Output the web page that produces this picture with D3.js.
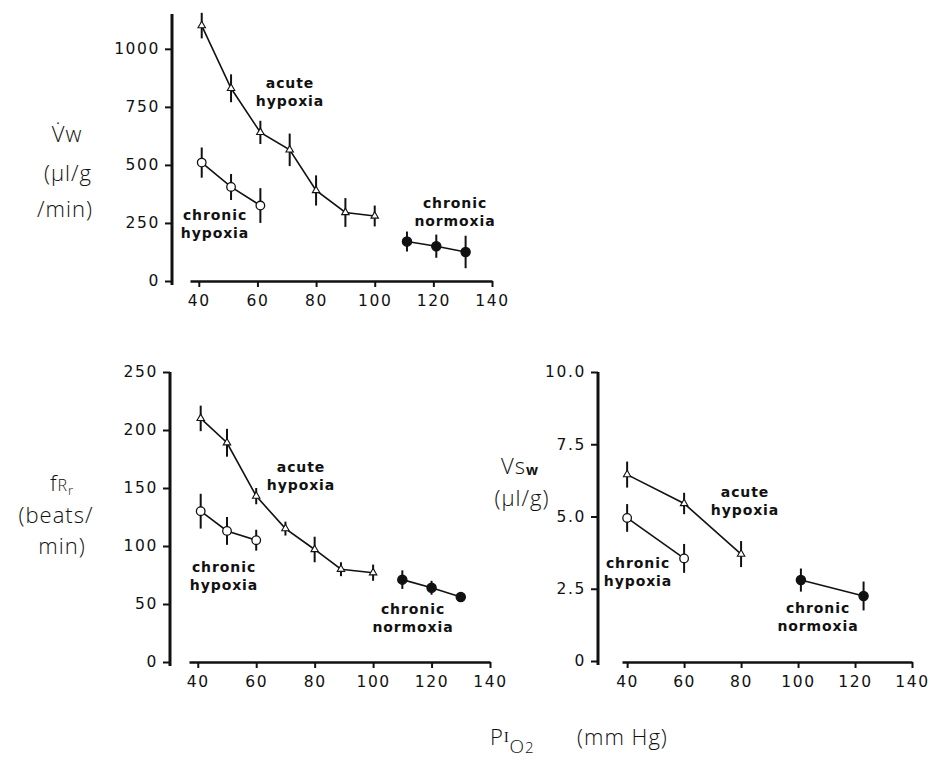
<!DOCTYPE html>
<html>
<head>
<meta charset="utf-8">
<script src="https://cdn.jsdelivr.net/npm/d3@7"></script>
<style>
  body { margin: 0; background: #fff; }
  svg { display: block; }
  .axis .tick text { font-family: "DejaVu Sans", sans-serif; font-size: 15.5px; letter-spacing: 1.6px; fill: #111; }
  .axis .tick line { stroke: #111; stroke-width: 2; }
  .axis path.domain { stroke: #111; }
  .note { font-family: "DejaVu Sans", sans-serif; font-weight: bold; font-size: 14px; letter-spacing: 0.9px; fill: #111; }
  .title { font-family: "Open Sans", "DejaVu Sans", sans-serif; font-weight: 300; font-size: 22px; letter-spacing: 1px; fill: #111; }
</style>
</head>
<body>
<svg width="930" height="765"></svg>
<script>
const xTicks = [40, 60, 80, 100, 120, 140];

// Vw (top panel)
const vwTicks = [0, 250, 500, 750, 1000];
const vwAcuteX = [41, 51, 61, 71, 80, 90, 100];
const vwAcuteY = [1100, 830, 640, 565, 390, 295, 280];
const vwAcuteErr = [55, 60, 50, 70, 65, 62, 45];
const vwChrHypX = [41, 51, 61];
const vwChrHypY = [510, 405, 325];
const vwChrHypErr = [65, 56, 75];
const vwNormX = [111, 121, 131];
const vwNormY = [170, 150, 125];
const vwNormErr = [43, 50, 70];

// fRr (bottom left)
const frTicks = [0, 50, 100, 150, 200, 250];
const frAcuteX = [41, 50, 60, 70, 80, 89, 100];
const frAcuteY = [210, 189, 143, 115, 97, 80, 77];
const frAcuteErr = [11, 12, 7, 6, 11, 6, 7];
const frChrHypX = [41, 50, 60];
const frChrHypY = [130, 113, 105];
const frChrHypErr = [15, 12, 9];
const frNormX = [110, 120, 130];
const frNormY = [71, 64, 56];
const frNormErr = [8, 6, 3];

// Vsw (bottom right)
const vsTicks = [0, 2.5, 5.0, 7.5, 10.0];
const vsAcuteX = [40, 60, 80];
const vsAcuteY = [6.45, 5.45, 3.7];
const vsAcuteErr = [0.45, 0.37, 0.45];
const vsChrHypX = [40, 60];
const vsChrHypY = [4.95, 3.55];
const vsChrHypErr = [0.48, 0.5];
const vsNormX = [101, 123];
const vsNormY = [2.8, 2.25];
const vsNormErr = [0.4, 0.5];

const zip = (xs, ys, es) => xs.map((x, i) => ({ x: x, y: ys[i], e: es[i] }));

const panels = [
  {
    xDomain: [37, 140], xRange: [190, 492],
    yDomain: [0, 1150], yRange: [281, 14],
    axisX: 172, axisY: 281, yTicks: vwTicks, fmt: d3.format("d"),
    series: [
      { pts: zip(vwAcuteX, vwAcuteY, vwAcuteErr), mark: "tri" },
      { pts: zip(vwChrHypX, vwChrHypY, vwChrHypErr), mark: "open" },
      { pts: zip(vwNormX, vwNormY, vwNormErr), mark: "fill" }
    ],
    notes: [
      { x: 290, y: 88, lines: ["acute", "hypoxia"] },
      { x: 215, y: 220, lines: ["chronic", "hypoxia"] },
      { x: 455, y: 208, lines: ["chronic", "normoxia"] }
    ]
  },
  {
    xDomain: [37, 140], xRange: [189, 490],
    yDomain: [0, 250], yRange: [662, 372],
    axisX: 170, axisY: 662, yTicks: frTicks, fmt: d3.format("d"),
    series: [
      { pts: zip(frAcuteX, frAcuteY, frAcuteErr), mark: "tri" },
      { pts: zip(frChrHypX, frChrHypY, frChrHypErr), mark: "open" },
      { pts: zip(frNormX, frNormY, frNormErr), mark: "fill" }
    ],
    notes: [
      { x: 301, y: 472, lines: ["acute", "hypoxia"] },
      { x: 224, y: 572, lines: ["chronic", "hypoxia"] },
      { x: 413, y: 614, lines: ["chronic", "normoxia"] }
    ]
  },
  {
    xDomain: [38.2, 140], xRange: [622, 912],
    yDomain: [0, 10], yRange: [661, 372],
    axisX: 598, axisY: 662, yTicks: vsTicks,
    fmt: d => d === 0 ? "0" : d3.format(".1f")(d),
    series: [
      { pts: zip(vsAcuteX, vsAcuteY, vsAcuteErr), mark: "tri" },
      { pts: zip(vsChrHypX, vsChrHypY, vsChrHypErr), mark: "open" },
      { pts: zip(vsNormX, vsNormY, vsNormErr), mark: "fill" }
    ],
    notes: [
      { x: 745, y: 497, lines: ["acute", "hypoxia"] },
      { x: 638, y: 568, lines: ["chronic", "hypoxia"] },
      { x: 818, y: 613, lines: ["chronic", "normoxia"] }
    ]
  }
];

const svg = d3.select("svg");

panels.forEach(p => {
  const x = d3.scaleLinear().domain(p.xDomain).range(p.xRange);
  const y = d3.scaleLinear().domain(p.yDomain).range(p.yRange);
  const g = svg.append("g");

  // y axis (line runs a little past the zero tick)
  const ya = g.append("g")
    .attr("class", "axis")
    .attr("transform", `translate(${p.axisX},0)`)
    .call(d3.axisLeft(y).tickValues(p.yTicks).tickFormat(p.fmt)
      .tickSize(7).tickSizeOuter(0).tickPadding(5));
  ya.select("path.domain")
    .attr("d", `M0,${p.yRange[0] + 4}V${p.yRange[1]}`)
    .attr("stroke-width", 3);

  // x axis, detached from the y axis
  const xa = g.append("g")
    .attr("class", "axis")
    .attr("transform", `translate(0,${p.axisY})`)
    .call(d3.axisBottom(x).tickValues(xTicks)
      .tickSize(6).tickSizeOuter(0).tickPadding(8));
  xa.select("path.domain").attr("stroke-width", 2.5);

  const line = d3.line().x(d => x(d.x)).y(d => y(d.y));

  p.series.forEach(s => {
    g.append("path")
      .datum(s.pts)
      .attr("d", line)
      .attr("fill", "none")
      .attr("stroke", "#111")
      .attr("stroke-width", 1.6);

    g.selectAll(null)
      .data(s.pts)
      .enter().append("line")
      .attr("x1", d => x(d.x))
      .attr("x2", d => x(d.x))
      .attr("y1", d => y(d.y - d.e))
      .attr("y2", d => y(d.y + d.e))
      .attr("stroke", "#111")
      .attr("stroke-width", 2);

    if (s.mark === "tri") {
      g.selectAll(null)
        .data(s.pts)
        .enter().append("path")
        .attr("d", d3.symbol(d3.symbolTriangle, 24))
        .attr("transform", d => `translate(${x(d.x)},${y(d.y)})`)
        .attr("fill", "#fff")
        .attr("stroke", "#111")
        .attr("stroke-width", 1.1);
    } else {
      g.selectAll(null)
        .data(s.pts)
        .enter().append("circle")
        .attr("cx", d => x(d.x))
        .attr("cy", d => y(d.y))
        .attr("r", s.mark === "fill" ? 4.6 : 4.3)
        .attr("fill", s.mark === "fill" ? "#111" : "#fff")
        .attr("stroke", "#111")
        .attr("stroke-width", 1.3);
    }
  });

  p.notes.forEach(n => {
    const t = g.append("text")
      .attr("class", "note")
      .attr("text-anchor", "middle");
    n.lines.forEach((s, i) => {
      t.append("tspan")
        .attr("x", n.x)
        .attr("y", n.y + i * 18)
        .text(s);
    });
  });
});

// axis titles
const t1 = svg.append("text").attr("class", "title").attr("text-anchor", "middle");
t1.append("tspan").attr("x", 67).attr("y", 142).text("V\u0307w");
t1.append("tspan").attr("x", 68).attr("y", 181).text("(\u00b5l/g");
t1.append("tspan").attr("x", 65).attr("y", 217).text("/min)");

const t2 = svg.append("text").attr("class", "title").attr("text-anchor", "middle");
const t2a = t2.append("tspan").attr("x", 62).attr("y", 491);
t2a.append("tspan").text("f");
t2a.append("tspan").attr("font-size", 16).text("R");
t2a.append("tspan").attr("font-size", 13).attr("dy", 4).text("r");
t2.append("tspan").attr("x", 56).attr("y", 523).text("(beats/");
t2.append("tspan").attr("x", 62).attr("y", 554).text("min)");

const t3 = svg.append("text").attr("class", "title").attr("text-anchor", "middle");
const t3a = t3.append("tspan").attr("x", 520).attr("y", 474);
t3a.append("tspan").text("Vs");
t3a.append("tspan").attr("font-size", 14).attr("font-weight", "bold").attr("dy", 1).text("w");
t3.append("tspan").attr("x", 522).attr("y", 506).text("(\u00b5l/g)");

const t4 = svg.append("text").attr("class", "title").attr("x", 490).attr("y", 745);
t4.append("tspan").text("P");
t4.append("tspan").attr("font-family", "Liberation Serif, serif").attr("font-size", 14).attr("dy", -3).text("I");
t4.append("tspan").attr("font-size", 19).attr("dy", 11).text("O");
t4.append("tspan").attr("font-size", 15).text("2");
svg.append("text").attr("class", "title").attr("x", 577).attr("y", 745).text("(mm Hg)");
</script>
</body>
</html>
